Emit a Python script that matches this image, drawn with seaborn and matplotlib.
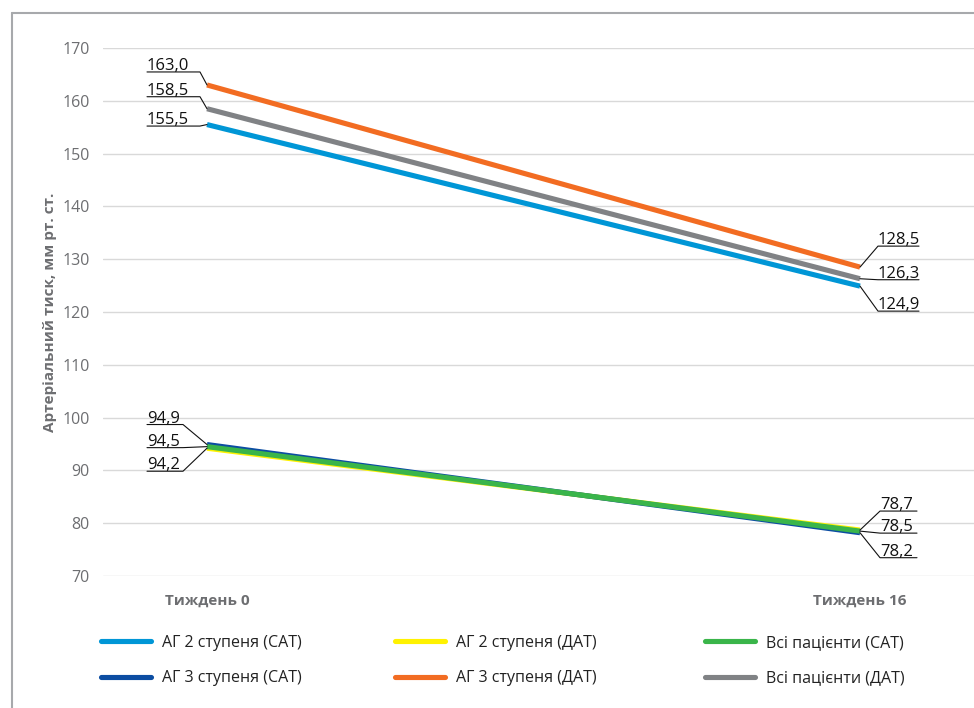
import matplotlib
matplotlib.use("Agg")
import matplotlib.pyplot as plt
from matplotlib.lines import Line2D
from matplotlib.transforms import IdentityTransform
import seaborn as sns
import pandas as pd

# ---- data ----
weeks = ["Тиждень 0", "Тиждень 16"]
ag2_sat = [155.5, 124.9]
ag3_sat = [94.9, 78.2]
ag2_dat = [94.2, 78.7]
ag3_dat = [163.0, 128.5]
all_sat = [94.5, 78.5]
all_dat = [158.5, 126.3]
y_ticks = [70, 80, 90, 100, 110, 120, 130, 140, 150, 160, 170]

series = {
    "АГ 2 ступеня (САТ)": ag2_sat,
    "АГ 3 ступеня (САТ)": ag3_sat,
    "АГ 2 ступеня (ДАТ)": ag2_dat,
    "АГ 3 ступеня (ДАТ)": ag3_dat,
    "Всі пацієнти (САТ)": all_sat,
    "Всі пацієнти (ДАТ)": all_dat,
}
colors = {
    "АГ 2 ступеня (САТ)": "#0096D6",
    "АГ 3 ступеня (САТ)": "#0C4DA2",
    "АГ 2 ступеня (ДАТ)": "#FFF200",
    "АГ 3 ступеня (ДАТ)": "#F26C22",
    "Всі пацієнти (САТ)": "#3AB54A",
    "Всі пацієнти (ДАТ)": "#808285",
}
draw_order = ["АГ 3 ступеня (ДАТ)", "Всі пацієнти (ДАТ)", "АГ 2 ступеня (САТ)",
              "АГ 2 ступеня (ДАТ)", "АГ 3 ступеня (САТ)", "Всі пацієнти (САТ)"]

rows = []
for name, vals in series.items():
    for i, v in enumerate(vals):
        rows.append({"series": name, "pos": i, "week": weeks[i], "value": v})
df = pd.DataFrame(rows)

# ---- style ----
sns.set_theme(style="white")
plt.rcParams["font.family"] = ["Open Sans", "DejaVu Sans"]

W, H = 974, 708
fig = plt.figure(figsize=(W / 100, H / 100), dpi=100)
fig.patch.set_facecolor("white")

ax_left, ax_right, ax_top, ax_bot = 103, 974, 48, 576
ax = fig.add_axes([ax_left / W, 1 - ax_bot / H, (ax_right - ax_left) / W, (ax_bot - ax_top) / H])

sns.lineplot(data=df, x="pos", y="value", hue="series", hue_order=draw_order,
             palette=colors, linewidth=3.7, legend=False, ax=ax,
             solid_capstyle="butt")

# x positions of the two weeks: 207 px and 860 px
x0_px, x1_px = 207, 860
unit = x1_px - x0_px
ax.set_xlim((ax_left - x0_px) / unit, 1 + (ax_right - x1_px) / unit)
ax.set_ylim(70, 170)
ax.set_yticks(y_ticks)
ax.set_yticklabels([str(t) for t in y_ticks])
ax.set_xticks([0, 1])
ax.set_xticklabels(weeks)
ax.grid(axis="y", color="#d9d9d9", linewidth=1.0)
ax.grid(axis="x", visible=False)
for s in ax.spines.values():
    s.set_visible(False)
ax.tick_params(axis="y", length=0, pad=9.5, labelsize=11.5, labelcolor="#6d6e71")
ax.tick_params(axis="x", length=0, pad=12.5, labelsize=11, labelcolor="#6d6e71")
for lbl in ax.get_xticklabels():
    lbl.set_fontweight("bold")
ax.set_xlabel("")
ax.set_ylabel("Артеріальний тиск, мм рт. ст.", fontsize=11, fontweight="bold",
              color="#6d6e71")
ax.yaxis.set_label_coords(-0.053, 0.5)

# ---- value labels with leader lines (offsets in pixels) ----
# (series, index, dy, elbow_dx, end_dx)
callouts = [
    ("АГ 3 ступеня (ДАТ)", 0, 13, -7, -60),
    ("Всі пацієнти (ДАТ)", 0, 12, -7, -60),
    ("АГ 2 ступеня (САТ)", 0, -1.5, -7, -60),
    ("АГ 3 ступеня (САТ)", 0, 20, -24, -60),
    ("Всі пацієнти (САТ)", 0, -1, -24, -60),
    ("АГ 2 ступеня (ДАТ)", 0, -23, -24, -60),
    ("АГ 3 ступеня (ДАТ)", 1, 21, 18, 59),
    ("Всі пацієнти (ДАТ)", 1, -1, 18, 59),
    ("АГ 2 ступеня (САТ)", 1, -25, 18, 59),
    ("АГ 2 ступеня (ДАТ)", 1, 19, 20, 57),
    ("Всі пацієнти (САТ)", 1, -2, 20, 57),
    ("АГ 3 ступеня (САТ)", 1, -25, 20, 57),
]
for name, idx, dy, elbow_dx, end_dx in callouts:
    val = series[name][idx]
    px, py = ax.transData.transform((idx, val))
    xs = [px, px + elbow_dx, px + end_dx]
    ys = [py, py + dy, py + dy]
    fig.add_artist(Line2D(xs, ys, transform=IdentityTransform(), color="#111111",
                          linewidth=0.8, zorder=5))
    text_dx = end_dx if end_dx < 0 else elbow_dx
    ax.annotate(f"{val:.1f}".replace(".", ","), xy=(idx, val),
                xytext=(text_dx, dy + 2), textcoords="offset pixels",
                ha="left", va="baseline", fontsize=12, color="#111111")

# ---- legend in three columns ----
legend_cols = [
    ["АГ 2 ступеня (САТ)", "АГ 3 ступеня (САТ)"],
    ["АГ 2 ступеня (ДАТ)", "АГ 3 ступеня (ДАТ)"],
    ["Всі пацієнти (САТ)", "Всі пацієнти (ДАТ)"],
]
col_x = [101, 395, 705]
leg_fs = 11.5
for names, cx in zip(legend_cols, col_x):
    handles = [Line2D([0], [0], color=colors[n], linewidth=3.7, solid_capstyle="round")
               for n in names]
    fig.legend(handles, names, loc="upper left", bbox_to_anchor=(cx / W, 1 - 635 / H),
               frameon=False, fontsize=leg_fs, handlelength=3.1, handletextpad=0.72,
               labelspacing=1.2, borderpad=0, borderaxespad=0, labelcolor="#222222")

# ---- outer frame ----
fig.add_artist(Line2D([12 / W, 12 / W], [0, 1 - 13 / H], transform=fig.transFigure,
                      color="#a7a9ac", linewidth=1.5))
fig.add_artist(Line2D([12 / W, 1], [1 - 13 / H, 1 - 13 / H], transform=fig.transFigure,
                      color="#a7a9ac", linewidth=1.5))

fig.savefig("out.png", dpi=100)
